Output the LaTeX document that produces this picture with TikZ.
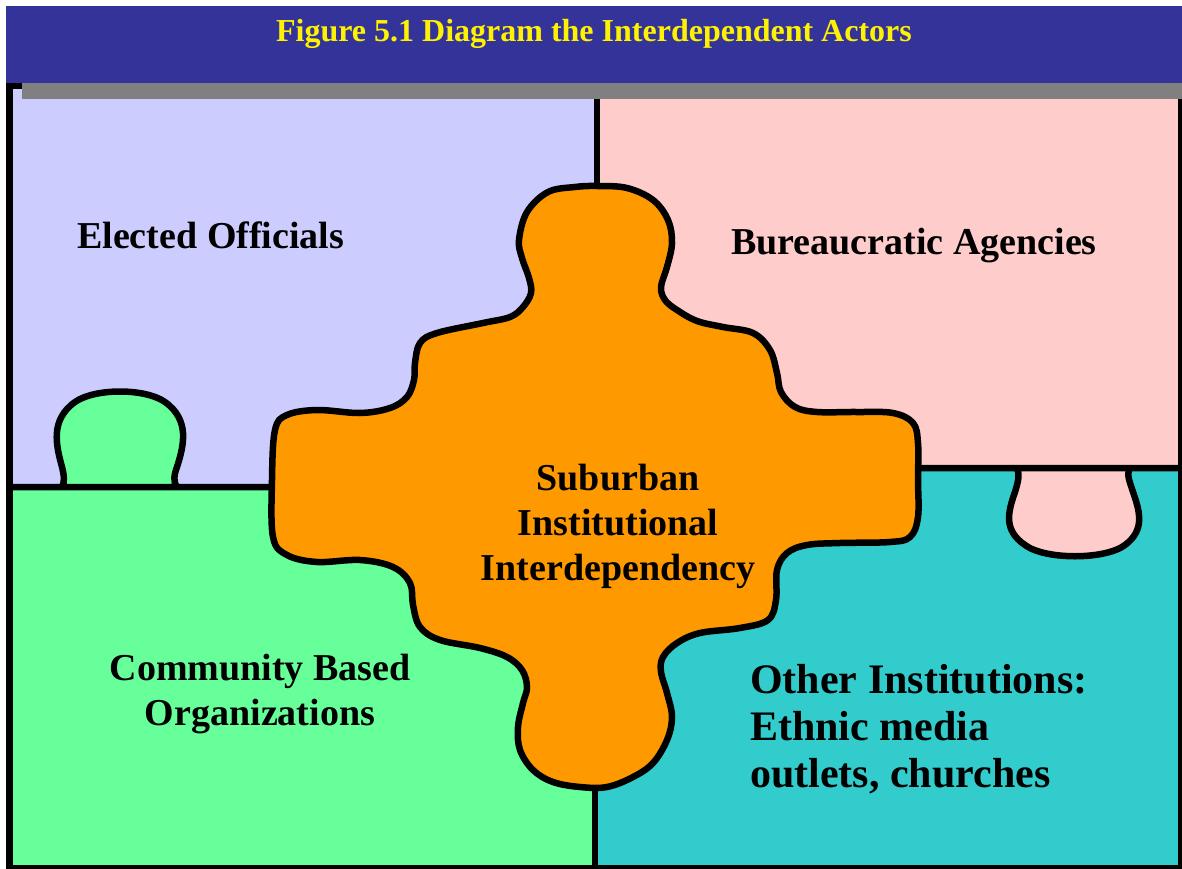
\documentclass[tikz,border=0pt]{standalone}
\usepackage{fontspec}
\setmainfont{Liberation Serif}

\definecolor{titleblue}{RGB}{51,51,153}
\definecolor{shadowgray}{RGB}{128,128,128}
\definecolor{lavender}{RGB}{204,204,255}
\definecolor{blush}{RGB}{255,204,204}
\definecolor{mint}{RGB}{102,255,153}
\definecolor{lagoon}{RGB}{51,204,204}
\definecolor{hub}{RGB}{255,153,0}

\tikzset{
  seam/.style={line width=6.5pt, line join=round, line cap=round},
  actor/.style={font=\bfseries\fontsize{38}{45}\selectfont, inner sep=0pt},
}

\begin{document}
\begin{tikzpicture}[x=1pt, y=-1pt]
    \useasboundingbox (0,0) rectangle (1182,869);
    % four quadrant pieces
    \fill[lavender] (13,86) rectangle (597,487);
    \fill[blush] (597,86) rectangle (1178,468);
    \fill[mint] (13,487) rectangle (595,866);
    \fill[lagoon] (595,468) rectangle (1178,866);
    % seams between the pieces
    \draw[seam] (597,86) -- (597,300);
    \draw[seam] (595,700) -- (595,866);
    \filldraw[seam, fill=mint] (10,487) -- (62,487)
        .. controls (65,482) and (64,475) .. (62,467)
        .. controls (56,445) and (50,420) .. (75,402)
        .. controls (95,388) and (145,388) .. (165,402)
        .. controls (190,420) and (184,445) .. (177,467)
        .. controls (174,475) and (173,482) .. (177,487)
        -- (300,487) -- cycle;
    \filldraw[seam, fill=blush] (900,468) -- (1017,468)
        .. controls (1020,475) and (1018,482) .. (1015,492)
        .. controls (1008,512) and (1003,530) .. (1025,545)
        .. controls (1045,560) and (1105,560) .. (1125,545)
        .. controls (1145,530) and (1140,512) .. (1133,492)
        .. controls (1130,482) and (1126,475) .. (1130,468)
        -- (1181,468) -- cycle;
    % centre piece
    \filldraw[seam, fill=hub] plot[smooth cycle, tension=0.6] coordinates {
        (597,186) (627,188) (653,200) (668,220) (672,243) (667,267)
        (661,287) (665,300) (677,310) (697,321) (723,327) (753,333)
        (770,350) (777,373) (781,392) (795,407) (817,412) (857,412)
        (893,413) (913,423) (918,443) (918,480) (918,517) (910,537)
        (890,542) (840,543) (807,545) (787,553) (777,570) (776,600)
        (768,620) (740,628) (700,633) (677,643) (663,657) (661,672)
        (667,693) (672,717) (667,740) (653,763) (633,777) (607,787)
        (580,787) (553,782) (533,770) (520,750) (518,727) (523,703)
        (527,687) (522,670) (507,657) (480,648) (440,640) (420,627)
        (413,605) (410,583) (393,567) (360,560) (317,562) (287,555)
        (273,537) (272,480) (275,430) (287,415) (317,410) (360,413)
        (390,408) (407,397) (414,380) (415,363) (420,343) (437,333)
        (483,323) (510,317) (523,307) (531,293) (529,278) (522,258)
        (519,240) (527,212) (548,192) (575,187)};
    % outer frame
    \draw[line width=7pt] (9.5,86) rectangle (1181,868);
    % title bar and its shadow
    \fill[titleblue] (6,6) rectangle (1182,83);
    \fill[shadowgray] (22,83) rectangle (1182,99);
    \node[anchor=base, text=yellow, inner sep=0pt, font=\bfseries\fontsize{32}{38}\selectfont]
        (title) at (594,42) {Figure 5.1 Diagram the Interdependent Actors};
    % labels (multi-line ones sit on their last baseline)
    \node[actor, anchor=base west] (elected) at (77,248) {Elected Officials};
    \node[actor, anchor=base west] (bureau) at (731,254) {Bureaucratic Agencies};
    \node[actor, anchor=base, align=center] (hubtext) at (618,580)
        {Suburban\\Institutional\\Interdependency};
    \node[actor, anchor=base, align=center] (cbo) at (260,725)
        {Community Based\\Organizations};
    \node[actor, anchor=base west, align=left, font=\bfseries\fontsize{42}{47}\selectfont]
        (others) at (750,787) {Other Institutions:\\Ethnic media\\outlets, churches};
\end{tikzpicture}
\end{document}
